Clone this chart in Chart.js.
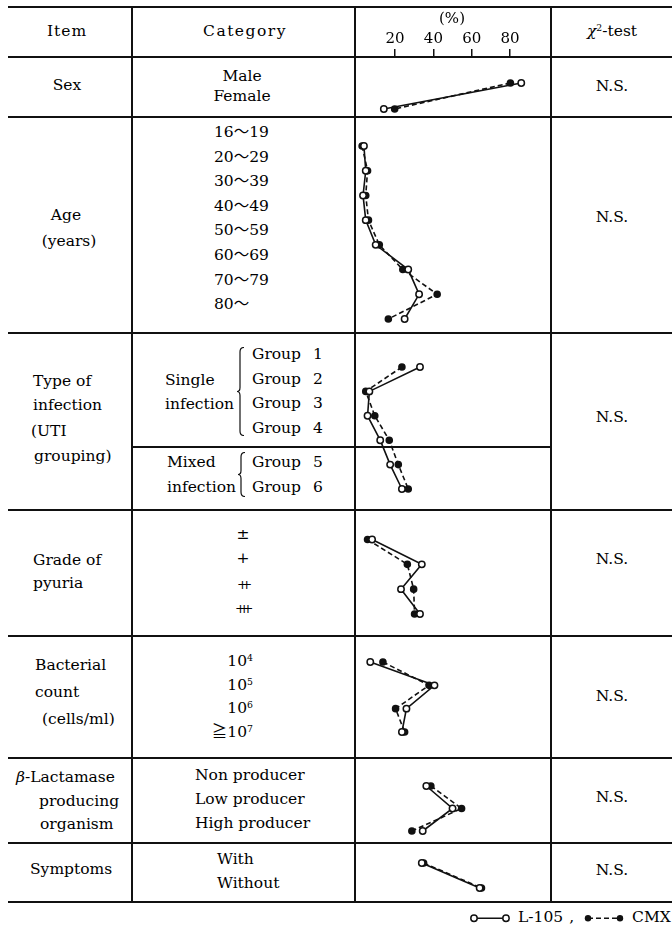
<!DOCTYPE html>
<html>
<head>
<meta charset="utf-8">
<script src="https://cdn.jsdelivr.net/npm/chart.js@4"></script>
<style>
body { margin: 0; background: #fff; }
#page { position: relative; width: 672px; height: 931px; overflow: hidden;
        font-family: "DejaVu Serif", "Noto Sans CJK JP", serif; font-size: 15.5px; color: #000; }
.t { position: absolute; white-space: nowrap; line-height: 1; }
.h { position: absolute; height: 2px; background: #111; }
.v { position: absolute; width: 1.5px; background: #111; }
.cw { position: absolute; left: 354px; width: 196px; }
sup { font-size: 0.6em; vertical-align: 0.55em; line-height: 0; }
</style>
</head>
<body>
<div id="page"></div>
<script>
// values, percent of cases
var sexCats = ["Male", "Female"];
var sexL105 = [88, 12];
var sexCMX = [82, 18];

var ageCats = ["16〜19", "20〜29", "30〜39", "40〜49", "50〜59", "60〜69", "70〜79", "80〜"];
var ageL105 = [1, 2, 0.5, 2, 7.5, 25.5, 31.5, 23.5];
var ageCMX = [0, 3, 2, 3.5, 9.5, 22.5, 41.5, 14.5];

var utiCats = ["Group 1", "Group 2", "Group 3", "Group 4", "Group 5", "Group 6"];
var utiL105 = [32, 4, 3, 10, 15.5, 22];
var utiCMX = [22, 2, 7, 15, 20, 25.5];

var pyuriaCats = ["±", "+", "++", "+++"];
var pyuriaL105 = [5.5, 33, 21.5, 32];
var pyuriaCMX = [3, 25, 28.5, 29];

var countCats = ["10<sup>4</sup>", "10<sup>5</sup>", "10<sup>6</sup>", "≧10<sup>7</sup>"];
var countL105 = [4.5, 40, 24.5, 22];
var countCMX = [11.5, 37, 18.5, 23.5];

var lactCats = ["Non producer", "Low producer", "High producer"];
var lactL105 = [35.5, 50, 33.5];
var lactCMX = [38, 55, 27.5];

var sympCats = ["With", "Without"];
var sympL105 = [33, 65];
var sympCMX = [34, 66];

var axisTicks = [20, 40, 60, 80];
var testResults = ["N.S.", "N.S.", "N.S.", "N.S.", "N.S.", "N.S.", "N.S."];

var X_MIN = -1.4;
var X_MAX = 100.8;
var FONT = "DejaVu Serif";

var page = document.getElementById("page");

function put(html, x, y, align) {
    var d = document.createElement("div");
    d.className = "t";
    d.innerHTML = html;
    d.style.top = y + "px";
    if (align === "c") {
        d.style.left = x + "px";
        d.style.transform = "translate(-50%,-50%)";
    } else if (align === "r") {
        d.style.right = (672 - x) + "px";
        d.style.transform = "translateY(-50%)";
    } else {
        d.style.left = x + "px";
        d.style.transform = "translateY(-50%)";
    }
    page.appendChild(d);
    return d;
}

function hline(x1, x2, y) {
    var d = document.createElement("div");
    d.className = "h";
    d.style.left = x1 + "px";
    d.style.width = (x2 - x1) + "px";
    d.style.top = (y - 1) + "px";
    page.appendChild(d);
}

function vline(x, y1, y2) {
    var d = document.createElement("div");
    d.className = "v";
    d.style.left = x + "px";
    d.style.top = y1 + "px";
    d.style.height = (y2 - y1) + "px";
    page.appendChild(d);
}

function brace(x, y1, y2) {
    var h = y2 - y1;
    var m = h / 2;
    var svg = '<svg width="10" height="' + h + '" style="position:absolute;left:' + x + 'px;top:' + y1 + 'px">' +
        '<path d="M8,0.5 Q4,0.5 4,5 L4,' + (m - 4) + ' Q4,' + m + ' 1,' + m +
        ' Q4,' + m + ' 4,' + (m + 4) + ' L4,' + (h - 5) + ' Q4,' + (h - 0.5) + ' 8,' + (h - 0.5) +
        '" fill="none" stroke="#111" stroke-width="1.2"/></svg>';
    page.insertAdjacentHTML("beforeend", svg);
}

// table rules
[7, 57, 117, 333, 510, 636, 758, 843, 902].forEach(function (y) { hline(8, 672, y); });
hline(131, 551, 447);
[131, 354, 550].forEach(function (x) { vline(x, 6, 903); });

// header
put("Item", 67, 32, "c").style.letterSpacing = "1px";
put("Category", 245, 32, "c").style.letterSpacing = "1.5px";
put("<i>χ</i><sup>2</sup>-test", 612, 32, "c");

// item column
put("Sex", 67, 86, "c");
put("Age", 66, 216, "c");
put("(years)", 69, 242, "c");
put("Type of", 33, 382, "l");
put("infection", 33, 406, "l");
put("(UTI", 31, 432, "l");
put("grouping)", 34, 457, "l");
put("Grade of", 33, 561, "l");
put("pyuria", 33, 584, "l");
put("Bacterial", 35, 666, "l");
put("count", 35, 693, "l");
put("(cells/ml)", 42, 720, "l");
put("<i>β</i>-Lactamase", 16, 778, "l");
put("producing", 39, 802, "l");
put("organism", 40, 825, "l");
put("Symptoms", 30, 870, "l");

// category column
function column(cats, x, y0, step, align) {
    cats.forEach(function (c, i) { put(c, x, y0 + step * i, align); });
}
column(sexCats, 242, 77, 20, "c");
column(ageCats, 214, 133, 24.6, "l");
utiCats.forEach(function (c, i) {
    var y = i < 4 ? 355 + 24.6 * i : 463 + 25 * (i - 4);
    var d = put(c, 252, y, "l");
    d.style.wordSpacing = "7px";
});
put("Single", 165, 381, "l");
put("infection", 165, 405, "l");
put("Mixed", 167, 463, "l");
put("infection", 167, 488, "l");
brace(236, 347, 436);
brace(237, 452, 497);
pyuriaCats.forEach(function (c, i) {
    var y = 535 + 24.3 * i;
    if (c.length > 1) {
        // stacked plus signs: overlap them so the bars merge
        var d = put(c, 237, y, "l");
        d.style.fontSize = "13px";
        d.style.letterSpacing = c.length === 2 ? "-6.6px" : "-7.2px";
        d.style.left = (c.length === 2 ? 237 : 235) + "px";
    } else {
        put(c, 243, y, "c");
    }
});
column(countCats, 253, 662, 23.6, "r");
column(lactCats, 195, 776, 24, "l");
column(sympCats, 217, 860, 24, "l");

// chi-square column
var nsY = [87, 218, 418, 560, 697, 798, 871];
testResults.forEach(function (r, i) { put(r, 612, nsY[i], "c"); });

// legend
var lg = document.createElement("div");
lg.className = "t";
lg.style.left = "468px";
lg.style.top = "918px";
lg.style.transform = "translateY(-50%)";
lg.style.display = "flex";
lg.style.alignItems = "center";
lg.innerHTML =
    '<svg width="44" height="10"><line x1="6" y1="5" x2="38" y2="5" stroke="#111" stroke-width="1.6"/>' +
    '<circle cx="6" cy="5" r="3.2" fill="#fff" stroke="#111" stroke-width="1.5"/>' +
    '<circle cx="38" cy="5" r="3.2" fill="#fff" stroke="#111" stroke-width="1.5"/></svg>' +
    '<span style="margin-left:6px">L-105</span><span style="margin-left:6px">,</span>' +
    '<svg width="44" height="10" style="margin-left:8px"><line x1="6" y1="5" x2="38" y2="5" stroke="#111" stroke-width="1.6" stroke-dasharray="5,3"/>' +
    '<circle cx="6" cy="5" r="3.2" fill="#111"/><circle cx="38" cy="5" r="3.2" fill="#111"/></svg>' +
    '<span style="margin-left:6px">CMX</span>';
page.appendChild(lg);

// charts
function plainCats(cats) {
    return cats.map(function (c) { return c.replace(/<[^>]+>/g, ""); });
}

var sections = [
    { top: 57, bottom: 117, padTop: 26, padBottom: 8, cats: sexCats, l105: sexL105, cmx: sexCMX },
    { top: 117, bottom: 333, padTop: 29, padBottom: 14, cats: ageCats, l105: ageL105, cmx: ageCMX },
    { top: 333, bottom: 510, padTop: 34, padBottom: 21, cats: utiCats, l105: utiL105, cmx: utiCMX },
    { top: 510, bottom: 636, padTop: 29.5, padBottom: 22, cats: pyuriaCats, l105: pyuriaL105, cmx: pyuriaCMX },
    { top: 636, bottom: 758, padTop: 26, padBottom: 26, cats: countCats, l105: countL105, cmx: countCMX },
    { top: 758, bottom: 843, padTop: 28, padBottom: 12, cats: lactCats, l105: lactL105, cmx: lactCMX },
    { top: 843, bottom: 902, padTop: 20, padBottom: 14, cats: sympCats, l105: sympL105, cmx: sympCMX }
];

function makeBox(top, height) {
    var wrap = document.createElement("div");
    wrap.className = "cw";
    wrap.style.top = top + "px";
    wrap.style.height = height + "px";
    var cv = document.createElement("canvas");
    wrap.appendChild(cv);
    page.appendChild(wrap);
    return cv;
}

sections.forEach(function (sec) {
    var cv = makeBox(sec.top, sec.bottom - sec.top);
    new Chart(cv, {
        type: "line",
        data: {
            labels: plainCats(sec.cats),
            datasets: [
                {
                    label: "L-105",
                    data: sec.l105,
                    borderColor: "#111",
                    backgroundColor: "#fff",
                    borderWidth: 1.6,
                    pointRadius: 3.2,
                    pointBorderWidth: 1.5,
                    pointBackgroundColor: "#fff",
                    pointBorderColor: "#111",
                    clip: false
                },
                {
                    label: "CMX",
                    data: sec.cmx,
                    borderColor: "#111",
                    backgroundColor: "#111",
                    borderWidth: 1.6,
                    borderDash: [5, 3],
                    pointRadius: 3,
                    pointBackgroundColor: "#111",
                    pointBorderColor: "#111",
                    clip: false
                }
            ]
        },
        options: {
            indexAxis: "y",
            responsive: true,
            maintainAspectRatio: false,
            animation: false,
            layout: { padding: { top: sec.padTop, bottom: sec.padBottom, left: 0, right: 0 } },
            plugins: { legend: { display: false }, tooltip: { enabled: false } },
            scales: {
                x: { type: "linear", min: X_MIN, max: X_MAX, display: false },
                y: { type: "category", display: false, offset: false }
            }
        }
    });
});

// percent axis in the header
var axisCv = makeBox(0, 62);
new Chart(axisCv, {
    type: "line",
    data: { labels: [], datasets: [] },
    options: {
        responsive: true,
        maintainAspectRatio: false,
        animation: false,
        plugins: { legend: { display: false }, tooltip: { enabled: false } },
        scales: {
            x: {
                type: "linear",
                position: "top",
                min: X_MIN,
                max: X_MAX,
                afterBuildTicks: function (s) {
                    s.ticks = axisTicks.map(function (v) { return { value: v }; });
                },
                afterFit: function (s) { s.height = 57; },
                border: { display: false },
                grid: { drawOnChartArea: false, drawTicks: true, tickLength: 8, color: "#111", lineWidth: 1.5 },
                ticks: { color: "#000", font: { family: FONT, size: 15 }, padding: 1, maxRotation: 0 },
                title: { display: true, text: "(%)", color: "#000", font: { family: FONT, size: 15 }, padding: { top: 10, bottom: 0 } }
            },
            y: { display: false }
        }
    }
});
</script>
</body>
</html>
